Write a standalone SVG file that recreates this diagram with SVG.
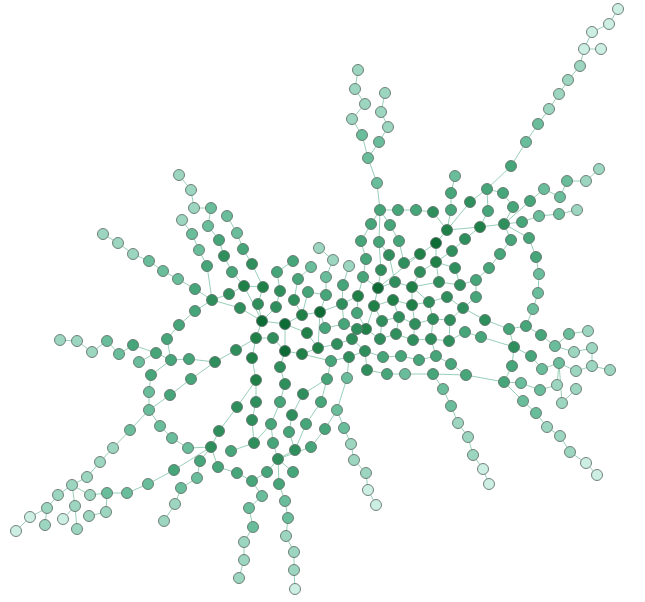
<svg xmlns="http://www.w3.org/2000/svg" width="645" height="602" viewBox="0 0 645 602">
<style>
line{stroke:#98cfb8;stroke-width:1}
circle{stroke:#5e6d67;stroke-width:1;stroke-opacity:.85}
.l0{fill:#0d6b35}.l1{fill:#1f8048}.l2{fill:#2f8f5c}.l3{fill:#46a579}.l4{fill:#6abd9a}.l5{fill:#9dd6c0}.l6{fill:#cdeee3}
</style>
<rect width="645" height="602" fill="#fff"/>
<g id="edges">
<line x1="618" y1="9" x2="609" y2="24"/><line x1="609" y1="24" x2="592" y2="32"/><line x1="592" y1="32" x2="584" y2="49"/><line x1="584" y1="49" x2="601" y2="49"/><line x1="584" y1="49" x2="580" y2="66"/><line x1="580" y1="66" x2="568" y2="80"/><line x1="568" y1="80" x2="559" y2="94"/><line x1="559" y1="94" x2="549" y2="109"/><line x1="549" y1="109" x2="538" y2="124"/><line x1="538" y1="124" x2="526" y2="142"/><line x1="526" y1="142" x2="511" y2="166"/><line x1="511" y1="166" x2="487" y2="189"/><line x1="487" y1="189" x2="503" y2="193"/><line x1="503" y1="193" x2="513" y2="207"/><line x1="513" y1="207" x2="504" y2="224"/><line x1="487" y1="189" x2="470" y2="202"/><line x1="470" y1="202" x2="447" y2="230"/><line x1="487" y1="189" x2="488" y2="211"/><line x1="488" y1="211" x2="480" y2="227"/><line x1="480" y1="227" x2="504" y2="224"/><line x1="447" y1="230" x2="480" y2="227"/><line x1="455" y1="176" x2="451" y2="193"/><line x1="451" y1="193" x2="451" y2="210"/><line x1="451" y1="210" x2="447" y2="230"/><line x1="380" y1="210" x2="398" y2="210"/><line x1="398" y1="210" x2="416" y2="210"/><line x1="416" y1="210" x2="433" y2="212"/><line x1="433" y1="212" x2="447" y2="230"/><line x1="377" y1="183" x2="380" y2="210"/><line x1="368" y1="158" x2="377" y2="183"/><line x1="362" y1="135" x2="368" y2="158"/><line x1="379" y1="142" x2="368" y2="158"/><line x1="358" y1="70" x2="355" y2="89"/><line x1="355" y1="89" x2="365" y2="104"/><line x1="365" y1="104" x2="352" y2="119"/><line x1="352" y1="119" x2="362" y2="135"/><line x1="385" y1="93" x2="381" y2="112"/><line x1="381" y1="112" x2="388" y2="127"/><line x1="388" y1="127" x2="379" y2="142"/>
<line x1="504" y1="224" x2="530" y2="201"/><line x1="530" y1="201" x2="544" y2="189"/><line x1="544" y1="189" x2="560" y2="197"/><line x1="560" y1="197" x2="567" y2="181"/><line x1="567" y1="181" x2="586" y2="181"/><line x1="586" y1="181" x2="599" y2="169"/><line x1="504" y1="224" x2="522" y2="222"/><line x1="522" y1="222" x2="539" y2="216"/><line x1="539" y1="216" x2="559" y2="214"/><line x1="559" y1="214" x2="577" y2="210"/><line x1="504" y1="224" x2="511" y2="240"/><line x1="511" y1="240" x2="500" y2="254"/><line x1="500" y1="254" x2="489" y2="268"/><line x1="489" y1="268" x2="476" y2="280"/><line x1="504" y1="224" x2="529" y2="238"/><line x1="529" y1="238" x2="536" y2="257"/><line x1="536" y1="257" x2="539" y2="274"/><line x1="539" y1="274" x2="538" y2="293"/><line x1="538" y1="293" x2="533" y2="309"/><line x1="533" y1="309" x2="526" y2="326"/><line x1="526" y1="326" x2="509" y2="329"/><line x1="509" y1="329" x2="485" y2="320"/><line x1="509" y1="329" x2="514" y2="347"/><line x1="526" y1="326" x2="541" y2="335"/><line x1="541" y1="335" x2="555" y2="346"/><line x1="555" y1="346" x2="569" y2="334"/><line x1="569" y1="334" x2="588" y2="331"/><line x1="555" y1="346" x2="574" y2="352"/><line x1="574" y1="352" x2="592" y2="348"/><line x1="592" y1="348" x2="592" y2="366"/><line x1="592" y1="366" x2="610" y2="370"/><line x1="592" y1="366" x2="576" y2="371"/><line x1="576" y1="371" x2="559" y2="363"/><line x1="559" y1="363" x2="542" y2="369"/><line x1="542" y1="369" x2="531" y2="356"/><line x1="531" y1="356" x2="514" y2="347"/><line x1="514" y1="347" x2="512" y2="366"/><line x1="512" y1="366" x2="504" y2="382"/><line x1="504" y1="382" x2="521" y2="383"/><line x1="521" y1="383" x2="540" y2="390"/><line x1="540" y1="390" x2="557" y2="385"/><line x1="557" y1="385" x2="559" y2="363"/><line x1="559" y1="363" x2="562" y2="403"/><line x1="562" y1="403" x2="576" y2="389"/><line x1="504" y1="382" x2="523" y2="401"/><line x1="523" y1="401" x2="536" y2="413"/><line x1="536" y1="413" x2="547" y2="427"/><line x1="547" y1="427" x2="560" y2="436"/><line x1="560" y1="436" x2="570" y2="452"/><line x1="570" y1="452" x2="586" y2="463"/><line x1="586" y1="463" x2="597" y2="475"/>
<line x1="504" y1="382" x2="466" y2="375"/><line x1="466" y1="375" x2="433" y2="374"/><line x1="433" y1="374" x2="443" y2="389"/><line x1="443" y1="389" x2="451" y2="406"/><line x1="451" y1="406" x2="458" y2="423"/><line x1="458" y1="423" x2="468" y2="437"/><line x1="468" y1="437" x2="473" y2="455"/><line x1="473" y1="455" x2="483" y2="469"/><line x1="483" y1="469" x2="489" y2="484"/><line x1="466" y1="375" x2="451" y2="364"/><line x1="451" y1="364" x2="436" y2="356"/><line x1="436" y1="356" x2="431" y2="339"/><line x1="433" y1="374" x2="405" y2="374"/><line x1="405" y1="374" x2="387" y2="374"/><line x1="387" y1="374" x2="367" y2="370"/><line x1="367" y1="370" x2="365" y2="351"/><line x1="365" y1="351" x2="383" y2="357"/><line x1="383" y1="357" x2="401" y2="356"/><line x1="401" y1="356" x2="419" y2="360"/><line x1="419" y1="360" x2="436" y2="356"/><line x1="366" y1="329" x2="380" y2="339"/><line x1="380" y1="339" x2="396" y2="334"/><line x1="396" y1="334" x2="413" y2="340"/><line x1="413" y1="340" x2="431" y2="339"/><line x1="431" y1="339" x2="449" y2="341"/><line x1="449" y1="341" x2="465" y2="332"/><line x1="465" y1="332" x2="481" y2="337"/><line x1="481" y1="337" x2="514" y2="347"/><line x1="382" y1="321" x2="399" y2="317"/><line x1="399" y1="317" x2="415" y2="324"/><line x1="415" y1="324" x2="433" y2="319"/><line x1="433" y1="319" x2="450" y2="320"/><line x1="450" y1="320" x2="463" y2="308"/><line x1="374" y1="306" x2="393" y2="300"/><line x1="393" y1="300" x2="412" y2="305"/><line x1="412" y1="305" x2="429" y2="302"/><line x1="429" y1="302" x2="447" y2="297"/><line x1="447" y1="297" x2="463" y2="308"/><line x1="363" y1="277" x2="378" y2="288"/><line x1="378" y1="288" x2="395" y2="282"/><line x1="395" y1="282" x2="412" y2="287"/><line x1="412" y1="287" x2="439" y2="282"/><line x1="439" y1="282" x2="460" y2="285"/><line x1="460" y1="285" x2="476" y2="280"/><line x1="476" y1="280" x2="476" y2="297"/><line x1="476" y1="297" x2="463" y2="308"/><line x1="463" y1="308" x2="485" y2="320"/>
<line x1="436" y1="243" x2="447" y2="230"/><line x1="436" y1="243" x2="420" y2="254"/><line x1="436" y1="243" x2="436" y2="262"/><line x1="465" y1="239" x2="480" y2="227"/><line x1="465" y1="239" x2="452" y2="251"/><line x1="452" y1="251" x2="436" y2="262"/><line x1="436" y1="262" x2="420" y2="272"/><line x1="436" y1="262" x2="455" y2="268"/><line x1="436" y1="262" x2="439" y2="282"/><line x1="455" y1="268" x2="460" y2="285"/><line x1="420" y1="254" x2="378" y2="288"/><line x1="420" y1="254" x2="404" y2="263"/><line x1="420" y1="272" x2="412" y2="287"/><line x1="412" y1="287" x2="412" y2="305"/><line x1="412" y1="287" x2="429" y2="302"/><line x1="412" y1="305" x2="415" y2="324"/><line x1="429" y1="302" x2="433" y2="319"/><line x1="415" y1="324" x2="413" y2="340"/><line x1="433" y1="319" x2="431" y2="339"/><line x1="450" y1="320" x2="449" y2="341"/><line x1="382" y1="321" x2="380" y2="339"/><line x1="374" y1="306" x2="382" y2="321"/><line x1="374" y1="306" x2="366" y2="329"/><line x1="393" y1="300" x2="399" y2="317"/><line x1="399" y1="317" x2="396" y2="334"/>
<line x1="380" y1="210" x2="371" y2="224"/><line x1="380" y1="210" x2="390" y2="225"/><line x1="371" y1="224" x2="361" y2="241"/><line x1="361" y1="241" x2="366" y2="259"/><line x1="366" y1="259" x2="363" y2="277"/><line x1="380" y1="210" x2="379" y2="242"/><line x1="379" y1="242" x2="381" y2="270"/><line x1="381" y1="270" x2="378" y2="288"/><line x1="379" y1="242" x2="389" y2="255"/><line x1="389" y1="255" x2="395" y2="282"/><line x1="390" y1="225" x2="399" y2="241"/><line x1="399" y1="241" x2="404" y2="263"/><line x1="363" y1="277" x2="358" y2="296"/><line x1="378" y1="288" x2="374" y2="306"/><line x1="358" y1="296" x2="342" y2="304"/><line x1="342" y1="304" x2="320" y2="312"/><line x1="342" y1="304" x2="343" y2="285"/><line x1="343" y1="285" x2="349" y2="266"/><line x1="333" y1="260" x2="319" y2="248"/><line x1="333" y1="260" x2="326" y2="277"/><line x1="326" y1="277" x2="326" y2="295"/><line x1="326" y1="295" x2="320" y2="312"/><line x1="358" y1="296" x2="357" y2="313"/><line x1="357" y1="313" x2="366" y2="329"/><line x1="344" y1="324" x2="357" y2="329"/><line x1="357" y1="329" x2="366" y2="329"/><line x1="325" y1="328" x2="344" y2="324"/><line x1="320" y1="312" x2="325" y2="328"/><line x1="342" y1="304" x2="344" y2="324"/>
<line x1="320" y1="312" x2="302" y2="315"/><line x1="302" y1="315" x2="285" y2="324"/><line x1="285" y1="324" x2="262" y2="321"/><line x1="262" y1="321" x2="244" y2="286"/><line x1="262" y1="321" x2="240" y2="308"/><line x1="262" y1="321" x2="258" y2="304"/><line x1="258" y1="304" x2="263" y2="287"/><line x1="262" y1="321" x2="276" y2="307"/><line x1="276" y1="307" x2="280" y2="291"/><line x1="302" y1="315" x2="294" y2="300"/><line x1="294" y1="300" x2="298" y2="279"/><line x1="298" y1="279" x2="311" y2="267"/><line x1="293" y1="261" x2="277" y2="272"/><line x1="277" y1="272" x2="280" y2="291"/><line x1="308" y1="292" x2="302" y2="315"/><line x1="308" y1="292" x2="326" y2="295"/>
<line x1="244" y1="286" x2="263" y2="287"/><line x1="263" y1="287" x2="252" y2="264"/><line x1="252" y1="264" x2="243" y2="249"/><line x1="243" y1="249" x2="237" y2="233"/><line x1="237" y1="233" x2="227" y2="216"/><line x1="244" y1="286" x2="229" y2="294"/><line x1="229" y1="294" x2="212" y2="300"/><line x1="244" y1="286" x2="232" y2="272"/><line x1="232" y1="272" x2="224" y2="256"/><line x1="224" y1="256" x2="219" y2="240"/><line x1="219" y1="240" x2="208" y2="226"/><line x1="208" y1="226" x2="211" y2="208"/><line x1="211" y1="208" x2="194" y2="208"/><line x1="194" y1="208" x2="191" y2="190"/><line x1="191" y1="190" x2="179" y2="175"/><line x1="182" y1="220" x2="192" y2="234"/><line x1="192" y1="234" x2="199" y2="250"/><line x1="199" y1="250" x2="207" y2="266"/><line x1="207" y1="266" x2="212" y2="300"/><line x1="212" y1="300" x2="195" y2="289"/><line x1="195" y1="289" x2="178" y2="279"/><line x1="178" y1="279" x2="163" y2="271"/><line x1="163" y1="271" x2="149" y2="261"/><line x1="149" y1="261" x2="133" y2="254"/><line x1="133" y1="254" x2="118" y2="243"/><line x1="118" y1="243" x2="103" y2="234"/><line x1="212" y1="300" x2="240" y2="308"/><line x1="212" y1="300" x2="195" y2="311"/><line x1="195" y1="311" x2="179" y2="325"/><line x1="179" y1="325" x2="167" y2="339"/><line x1="167" y1="339" x2="171" y2="360"/>
<line x1="262" y1="321" x2="256" y2="338"/><line x1="256" y1="338" x2="236" y2="350"/><line x1="256" y1="338" x2="252" y2="358"/><line x1="256" y1="338" x2="273" y2="338"/><line x1="285" y1="324" x2="285" y2="351"/><line x1="273" y1="338" x2="285" y2="351"/><line x1="285" y1="351" x2="302" y2="354"/><line x1="302" y1="354" x2="318" y2="348"/><line x1="318" y1="348" x2="337" y2="344"/><line x1="337" y1="344" x2="352" y2="339"/><line x1="352" y1="339" x2="365" y2="351"/><line x1="320" y1="312" x2="318" y2="348"/><line x1="307" y1="333" x2="318" y2="348"/><line x1="307" y1="333" x2="285" y2="324"/><line x1="285" y1="351" x2="280" y2="367"/><line x1="280" y1="367" x2="285" y2="384"/><line x1="285" y1="384" x2="280" y2="402"/><line x1="280" y1="402" x2="271" y2="424"/><line x1="271" y1="424" x2="273" y2="443"/><line x1="273" y1="443" x2="278" y2="459"/><line x1="252" y1="358" x2="256" y2="380"/><line x1="256" y1="380" x2="256" y2="402"/><line x1="256" y1="380" x2="237" y2="407"/><line x1="256" y1="402" x2="252" y2="420"/><line x1="252" y1="420" x2="254" y2="443"/><line x1="254" y1="443" x2="231" y2="451"/><line x1="254" y1="443" x2="271" y2="424"/><line x1="237" y1="407" x2="219" y2="431"/><line x1="219" y1="431" x2="211" y2="447"/><line x1="211" y1="447" x2="188" y2="448"/><line x1="211" y1="447" x2="200" y2="461"/><line x1="211" y1="447" x2="218" y2="467"/><line x1="211" y1="447" x2="174" y2="470"/><line x1="218" y1="467" x2="237" y2="473"/><line x1="237" y1="473" x2="252" y2="481"/><line x1="252" y1="481" x2="267" y2="472"/><line x1="267" y1="472" x2="278" y2="459"/><line x1="278" y1="459" x2="293" y2="472"/><line x1="278" y1="459" x2="279" y2="484"/><line x1="278" y1="459" x2="295" y2="450"/><line x1="295" y1="450" x2="306" y2="424"/><line x1="306" y1="424" x2="321" y2="402"/><line x1="321" y1="402" x2="327" y2="379"/><line x1="327" y1="379" x2="303" y2="394"/><line x1="303" y1="394" x2="292" y2="415"/><line x1="292" y1="415" x2="289" y2="432"/><line x1="289" y1="432" x2="295" y2="450"/><line x1="327" y1="379" x2="331" y2="361"/><line x1="331" y1="361" x2="302" y2="354"/><line x1="331" y1="361" x2="349" y2="357"/><line x1="349" y1="357" x2="347" y2="378"/><line x1="347" y1="378" x2="337" y2="410"/><line x1="337" y1="410" x2="325" y2="429"/><line x1="325" y1="429" x2="311" y2="447"/><line x1="311" y1="447" x2="278" y2="459"/><line x1="349" y1="357" x2="365" y2="351"/>
<line x1="252" y1="481" x2="262" y2="496"/><line x1="262" y1="496" x2="249" y2="508"/><line x1="249" y1="508" x2="253" y2="527"/><line x1="253" y1="527" x2="244" y2="542"/><line x1="244" y1="542" x2="244" y2="560"/><line x1="244" y1="560" x2="239" y2="578"/><line x1="279" y1="484" x2="285" y2="501"/><line x1="285" y1="501" x2="288" y2="518"/><line x1="288" y1="518" x2="286" y2="536"/><line x1="286" y1="536" x2="294" y2="552"/><line x1="294" y1="552" x2="294" y2="570"/><line x1="294" y1="570" x2="295" y2="589"/><line x1="337" y1="410" x2="344" y2="428"/><line x1="344" y1="428" x2="351" y2="444"/><line x1="351" y1="444" x2="354" y2="460"/><line x1="354" y1="460" x2="366" y2="473"/><line x1="366" y1="473" x2="368" y2="490"/><line x1="368" y1="490" x2="376" y2="505"/>
<line x1="236" y1="350" x2="215" y2="362"/><line x1="215" y1="362" x2="189" y2="359"/><line x1="215" y1="362" x2="191" y2="379"/><line x1="189" y1="359" x2="171" y2="360"/><line x1="171" y1="360" x2="156" y2="353"/><line x1="156" y1="353" x2="133" y2="345"/><line x1="156" y1="353" x2="139" y2="362"/><line x1="171" y1="360" x2="151" y2="375"/><line x1="151" y1="375" x2="149" y2="392"/><line x1="149" y1="392" x2="149" y2="410"/><line x1="191" y1="379" x2="170" y2="395"/><line x1="170" y1="395" x2="149" y2="410"/><line x1="133" y1="345" x2="119" y2="354"/><line x1="119" y1="354" x2="107" y2="341"/><line x1="107" y1="341" x2="92" y2="352"/><line x1="92" y1="352" x2="77" y2="341"/><line x1="77" y1="341" x2="60" y2="340"/><line x1="149" y1="410" x2="160" y2="426"/><line x1="160" y1="426" x2="172" y2="438"/><line x1="172" y1="438" x2="188" y2="448"/><line x1="149" y1="410" x2="130" y2="430"/><line x1="130" y1="430" x2="113" y2="448"/><line x1="113" y1="448" x2="100" y2="462"/><line x1="100" y1="462" x2="87" y2="477"/><line x1="87" y1="477" x2="72" y2="485"/><line x1="72" y1="485" x2="58" y2="495"/><line x1="58" y1="495" x2="47" y2="508"/><line x1="47" y1="508" x2="30" y2="517"/><line x1="30" y1="517" x2="16" y2="531"/><line x1="47" y1="508" x2="45" y2="525"/><line x1="72" y1="485" x2="90" y2="495"/><line x1="90" y1="495" x2="107" y2="493"/><line x1="107" y1="493" x2="127" y2="493"/><line x1="127" y1="493" x2="148" y2="484"/><line x1="148" y1="484" x2="174" y2="470"/><line x1="200" y1="461" x2="197" y2="478"/><line x1="197" y1="478" x2="181" y2="488"/><line x1="181" y1="488" x2="175" y2="504"/><line x1="175" y1="504" x2="164" y2="521"/><line x1="107" y1="493" x2="106" y2="512"/><line x1="106" y1="512" x2="89" y2="516"/><line x1="72" y1="485" x2="75" y2="506"/><line x1="75" y1="506" x2="63" y2="519"/><line x1="75" y1="506" x2="77" y2="529"/>
</g>
<g id="n1"><circle class="l6" cx="618" cy="9" r="5.5"/></g>
<g id="n2"><circle class="l6" cx="609" cy="24" r="5.5"/></g>
<g id="n3"><circle class="l6" cx="592" cy="32" r="5.5"/></g>
<g id="n4"><circle class="l6" cx="584" cy="49" r="5.5"/></g>
<g id="n5"><circle class="l6" cx="601" cy="49" r="5.5"/></g>
<g id="n6"><circle class="l5" cx="580" cy="66" r="5.5"/></g>
<g id="n7"><circle class="l5" cx="568" cy="80" r="5.5"/></g>
<g id="n8"><circle class="l5" cx="559" cy="94" r="5.5"/></g>
<g id="n9"><circle class="l5" cx="549" cy="109" r="5.5"/></g>
<g id="n10"><circle class="l4" cx="538" cy="124" r="5.5"/></g>
<g id="n11"><circle class="l4" cx="526" cy="142" r="5.5"/></g>
<g id="n12"><circle class="l3" cx="511" cy="166" r="5.5"/></g>
<g id="n13"><circle class="l3" cx="487" cy="189" r="5.5"/></g>
<g id="n14"><circle class="l3" cx="503" cy="193" r="5.5"/></g>
<g id="n15"><circle class="l3" cx="513" cy="207" r="5.5"/></g>
<g id="n16"><circle class="l2" cx="504" cy="224" r="5.5"/></g>
<g id="n17"><circle class="l2" cx="470" cy="202" r="5.5"/></g>
<g id="n18"><circle class="l3" cx="488" cy="211" r="5.5"/></g>
<g id="n19"><circle class="l1" cx="480" cy="227" r="5.5"/></g>
<g id="n20"><circle class="l4" cx="455" cy="176" r="5.5"/></g>
<g id="n21"><circle class="l3" cx="451" cy="193" r="5.5"/></g>
<g id="n22"><circle class="l3" cx="451" cy="210" r="5.5"/></g>
<g id="n23"><circle class="l1" cx="447" cy="230" r="5.5"/></g>
<g id="n24"><circle class="l2" cx="433" cy="212" r="5.5"/></g>
<g id="n25"><circle class="l3" cx="416" cy="210" r="5.5"/></g>
<g id="n26"><circle class="l3" cx="398" cy="210" r="5.5"/></g>
<g id="n27"><circle class="l3" cx="380" cy="210" r="5.5"/></g>
<g id="n28"><circle class="l4" cx="377" cy="183" r="5.5"/></g>
<g id="n29"><circle class="l4" cx="368" cy="158" r="5.5"/></g>
<g id="n30"><circle class="l5" cx="358" cy="70" r="5.5"/></g>
<g id="n31"><circle class="l5" cx="355" cy="89" r="5.5"/></g>
<g id="n32"><circle class="l5" cx="365" cy="104" r="5.5"/></g>
<g id="n33"><circle class="l5" cx="352" cy="119" r="5.5"/></g>
<g id="n34"><circle class="l4" cx="362" cy="135" r="5.5"/></g>
<g id="n35"><circle class="l5" cx="385" cy="93" r="5.5"/></g>
<g id="n36"><circle class="l5" cx="381" cy="112" r="5.5"/></g>
<g id="n37"><circle class="l5" cx="388" cy="127" r="5.5"/></g>
<g id="n38"><circle class="l4" cx="379" cy="142" r="5.5"/></g>
<g id="n39"><circle class="l3" cx="530" cy="201" r="5.5"/></g>
<g id="n40"><circle class="l4" cx="544" cy="189" r="5.5"/></g>
<g id="n41"><circle class="l4" cx="560" cy="197" r="5.5"/></g>
<g id="n42"><circle class="l4" cx="567" cy="181" r="5.5"/></g>
<g id="n43"><circle class="l5" cx="586" cy="181" r="5.5"/></g>
<g id="n44"><circle class="l5" cx="599" cy="169" r="5.5"/></g>
<g id="n45"><circle class="l3" cx="522" cy="222" r="5.5"/></g>
<g id="n46"><circle class="l4" cx="539" cy="216" r="5.5"/></g>
<g id="n47"><circle class="l4" cx="559" cy="214" r="5.5"/></g>
<g id="n48"><circle class="l5" cx="577" cy="210" r="5.5"/></g>
<g id="n49"><circle class="l3" cx="511" cy="240" r="5.5"/></g>
<g id="n50"><circle class="l3" cx="500" cy="254" r="5.5"/></g>
<g id="n51"><circle class="l3" cx="489" cy="268" r="5.5"/></g>
<g id="n52"><circle class="l3" cx="476" cy="280" r="5.5"/></g>
<g id="n53"><circle class="l3" cx="529" cy="238" r="5.5"/></g>
<g id="n54"><circle class="l3" cx="536" cy="257" r="5.5"/></g>
<g id="n55"><circle class="l4" cx="539" cy="274" r="5.5"/></g>
<g id="n56"><circle class="l4" cx="538" cy="293" r="5.5"/></g>
<g id="n57"><circle class="l4" cx="533" cy="309" r="5.5"/></g>
<g id="n58"><circle class="l3" cx="526" cy="326" r="5.5"/></g>
<g id="n59"><circle class="l3" cx="509" cy="329" r="5.5"/></g>
<g id="n60"><circle class="l2" cx="485" cy="320" r="5.5"/></g>
<g id="n61"><circle class="l2" cx="514" cy="347" r="5.5"/></g>
<g id="n62"><circle class="l3" cx="541" cy="335" r="5.5"/></g>
<g id="n63"><circle class="l4" cx="569" cy="334" r="5.5"/></g>
<g id="n64"><circle class="l5" cx="588" cy="331" r="5.5"/></g>
<g id="n65"><circle class="l4" cx="555" cy="346" r="5.5"/></g>
<g id="n66"><circle class="l5" cx="592" cy="348" r="5.5"/></g>
<g id="n67"><circle class="l5" cx="574" cy="352" r="5.5"/></g>
<g id="n68"><circle class="l3" cx="531" cy="356" r="5.5"/></g>
<g id="n69"><circle class="l4" cx="542" cy="369" r="5.5"/></g>
<g id="n70"><circle class="l4" cx="559" cy="363" r="5.5"/></g>
<g id="n71"><circle class="l5" cx="576" cy="371" r="5.5"/></g>
<g id="n72"><circle class="l5" cx="592" cy="366" r="5.5"/></g>
<g id="n73"><circle class="l5" cx="610" cy="370" r="5.5"/></g>
<g id="n74"><circle class="l3" cx="512" cy="366" r="5.5"/></g>
<g id="n75"><circle class="l3" cx="504" cy="382" r="5.5"/></g>
<g id="n76"><circle class="l4" cx="521" cy="383" r="5.5"/></g>
<g id="n77"><circle class="l4" cx="540" cy="390" r="5.5"/></g>
<g id="n78"><circle class="l5" cx="557" cy="385" r="5.5"/></g>
<g id="n79"><circle class="l5" cx="576" cy="389" r="5.5"/></g>
<g id="n80"><circle class="l5" cx="562" cy="403" r="5.5"/></g>
<g id="n81"><circle class="l4" cx="523" cy="401" r="5.5"/></g>
<g id="n82"><circle class="l4" cx="536" cy="413" r="5.5"/></g>
<g id="n83"><circle class="l5" cx="547" cy="427" r="5.5"/></g>
<g id="n84"><circle class="l5" cx="560" cy="436" r="5.5"/></g>
<g id="n85"><circle class="l5" cx="570" cy="452" r="5.5"/></g>
<g id="n86"><circle class="l6" cx="586" cy="463" r="5.5"/></g>
<g id="n87"><circle class="l6" cx="597" cy="475" r="5.5"/></g>
<g id="n88"><circle class="l3" cx="466" cy="375" r="5.5"/></g>
<g id="n89"><circle class="l4" cx="443" cy="389" r="5.5"/></g>
<g id="n90"><circle class="l4" cx="451" cy="406" r="5.5"/></g>
<g id="n91"><circle class="l5" cx="458" cy="423" r="5.5"/></g>
<g id="n92"><circle class="l5" cx="468" cy="437" r="5.5"/></g>
<g id="n93"><circle class="l5" cx="473" cy="455" r="5.5"/></g>
<g id="n94"><circle class="l6" cx="483" cy="469" r="5.5"/></g>
<g id="n95"><circle class="l6" cx="489" cy="484" r="5.5"/></g>
<g id="n96"><circle class="l0" cx="436" cy="243" r="5.5"/></g>
<g id="n97"><circle class="l1" cx="436" cy="262" r="5.5"/></g>
<g id="n98"><circle class="l1" cx="420" cy="254" r="5.5"/></g>
<g id="n99"><circle class="l2" cx="465" cy="239" r="5.5"/></g>
<g id="n100"><circle class="l2" cx="452" cy="251" r="5.5"/></g>
<g id="n101"><circle class="l2" cx="455" cy="268" r="5.5"/></g>
<g id="n102"><circle class="l2" cx="404" cy="263" r="5.5"/></g>
<g id="n103"><circle class="l2" cx="420" cy="272" r="5.5"/></g>
<g id="n104"><circle class="l3" cx="399" cy="241" r="5.5"/></g>
<g id="n105"><circle class="l2" cx="389" cy="255" r="5.5"/></g>
<g id="n106"><circle class="l3" cx="379" cy="242" r="5.5"/></g>
<g id="n107"><circle class="l3" cx="366" cy="259" r="5.5"/></g>
<g id="n108"><circle class="l2" cx="381" cy="270" r="5.5"/></g>
<g id="n109"><circle class="l3" cx="361" cy="241" r="5.5"/></g>
<g id="n110"><circle class="l3" cx="371" cy="224" r="5.5"/></g>
<g id="n111"><circle class="l3" cx="390" cy="225" r="5.5"/></g>
<g id="n112"><circle class="l3" cx="363" cy="277" r="5.5"/></g>
<g id="n113"><circle class="l2" cx="395" cy="282" r="5.5"/></g>
<g id="n114"><circle class="l0" cx="378" cy="288" r="5.5"/></g>
<g id="n115"><circle class="l1" cx="412" cy="287" r="5.5"/></g>
<g id="n116"><circle class="l2" cx="439" cy="282" r="5.5"/></g>
<g id="n117"><circle class="l2" cx="460" cy="285" r="5.5"/></g>
<g id="n118"><circle class="l1" cx="393" cy="300" r="5.5"/></g>
<g id="n119"><circle class="l1" cx="412" cy="305" r="5.5"/></g>
<g id="n120"><circle class="l2" cx="429" cy="302" r="5.5"/></g>
<g id="n121"><circle class="l2" cx="447" cy="297" r="5.5"/></g>
<g id="n122"><circle class="l3" cx="476" cy="297" r="5.5"/></g>
<g id="n123"><circle class="l1" cx="374" cy="306" r="5.5"/></g>
<g id="n124"><circle class="l2" cx="463" cy="308" r="5.5"/></g>
<g id="n125"><circle class="l2" cx="382" cy="321" r="5.5"/></g>
<g id="n126"><circle class="l2" cx="399" cy="317" r="5.5"/></g>
<g id="n127"><circle class="l2" cx="415" cy="324" r="5.5"/></g>
<g id="n128"><circle class="l2" cx="433" cy="319" r="5.5"/></g>
<g id="n129"><circle class="l2" cx="450" cy="320" r="5.5"/></g>
<g id="n130"><circle class="l1" cx="366" cy="329" r="5.5"/></g>
<g id="n131"><circle class="l2" cx="380" cy="339" r="5.5"/></g>
<g id="n132"><circle class="l2" cx="396" cy="334" r="5.5"/></g>
<g id="n133"><circle class="l2" cx="413" cy="340" r="5.5"/></g>
<g id="n134"><circle class="l2" cx="431" cy="339" r="5.5"/></g>
<g id="n135"><circle class="l2" cx="449" cy="341" r="5.5"/></g>
<g id="n136"><circle class="l3" cx="465" cy="332" r="5.5"/></g>
<g id="n137"><circle class="l3" cx="481" cy="337" r="5.5"/></g>
<g id="n138"><circle class="l2" cx="365" cy="351" r="5.5"/></g>
<g id="n139"><circle class="l3" cx="383" cy="357" r="5.5"/></g>
<g id="n140"><circle class="l3" cx="401" cy="356" r="5.5"/></g>
<g id="n141"><circle class="l3" cx="419" cy="360" r="5.5"/></g>
<g id="n142"><circle class="l3" cx="436" cy="356" r="5.5"/></g>
<g id="n143"><circle class="l3" cx="451" cy="364" r="5.5"/></g>
<g id="n144"><circle class="l2" cx="367" cy="370" r="5.5"/></g>
<g id="n145"><circle class="l3" cx="387" cy="374" r="5.5"/></g>
<g id="n146"><circle class="l4" cx="405" cy="374" r="5.5"/></g>
<g id="n147"><circle class="l3" cx="433" cy="374" r="5.5"/></g>
<g id="n149"><circle class="l2" cx="357" cy="329" r="5.5"/></g>
<g id="n150"><circle class="l3" cx="344" cy="324" r="5.5"/></g>
<g id="n151"><circle class="l3" cx="325" cy="328" r="5.5"/></g>
<g id="n152"><circle class="l1" cx="307" cy="333" r="5.5"/></g>
<g id="n153"><circle class="l1" cx="318" cy="348" r="5.5"/></g>
<g id="n154"><circle class="l2" cx="337" cy="344" r="5.5"/></g>
<g id="n155"><circle class="l2" cx="352" cy="339" r="5.5"/></g>
<g id="n156"><circle class="l3" cx="331" cy="361" r="5.5"/></g>
<g id="n157"><circle class="l2" cx="349" cy="357" r="5.5"/></g>
<g id="n159"><circle class="l0" cx="320" cy="312" r="5.5"/></g>
<g id="n160"><circle class="l2" cx="342" cy="304" r="5.5"/></g>
<g id="n161"><circle class="l1" cx="358" cy="296" r="5.5"/></g>
<g id="n162"><circle class="l3" cx="357" cy="313" r="5.5"/></g>
<g id="n163"><circle class="l1" cx="302" cy="315" r="5.5"/></g>
<g id="n164"><circle class="l0" cx="285" cy="324" r="5.5"/></g>
<g id="n165"><circle class="l0" cx="262" cy="321" r="5.5"/></g>
<g id="n166"><circle class="l2" cx="240" cy="308" r="5.5"/></g>
<g id="n167"><circle class="l2" cx="258" cy="304" r="5.5"/></g>
<g id="n168"><circle class="l2" cx="276" cy="307" r="5.5"/></g>
<g id="n169"><circle class="l2" cx="294" cy="300" r="5.5"/></g>
<g id="n170"><circle class="l3" cx="308" cy="292" r="5.5"/></g>
<g id="n171"><circle class="l3" cx="326" cy="295" r="5.5"/></g>
<g id="n172"><circle class="l3" cx="343" cy="285" r="5.5"/></g>
<g id="n174"><circle class="l4" cx="326" cy="277" r="5.5"/></g>
<g id="n175"><circle class="l3" cx="298" cy="279" r="5.5"/></g>
<g id="n176"><circle class="l4" cx="311" cy="267" r="5.5"/></g>
<g id="n177"><circle class="l3" cx="293" cy="261" r="5.5"/></g>
<g id="n178"><circle class="l3" cx="277" cy="272" r="5.5"/></g>
<g id="n179"><circle class="l5" cx="319" cy="248" r="5.5"/></g>
<g id="n180"><circle class="l5" cx="333" cy="260" r="5.5"/></g>
<g id="n181"><circle class="l5" cx="349" cy="266" r="5.5"/></g>
<g id="n183"><circle class="l1" cx="244" cy="286" r="5.5"/></g>
<g id="n184"><circle class="l1" cx="263" cy="287" r="5.5"/></g>
<g id="n185"><circle class="l2" cx="280" cy="291" r="5.5"/></g>
<g id="n186"><circle class="l2" cx="229" cy="294" r="5.5"/></g>
<g id="n187"><circle class="l2" cx="212" cy="300" r="5.5"/></g>
<g id="n188"><circle class="l2" cx="252" cy="264" r="5.5"/></g>
<g id="n189"><circle class="l3" cx="243" cy="249" r="5.5"/></g>
<g id="n190"><circle class="l3" cx="232" cy="272" r="5.5"/></g>
<g id="n191"><circle class="l2" cx="224" cy="256" r="5.5"/></g>
<g id="n192"><circle class="l4" cx="237" cy="233" r="5.5"/></g>
<g id="n193"><circle class="l4" cx="227" cy="216" r="5.5"/></g>
<g id="n194"><circle class="l4" cx="211" cy="208" r="5.5"/></g>
<g id="n195"><circle class="l4" cx="208" cy="226" r="5.5"/></g>
<g id="n196"><circle class="l3" cx="219" cy="240" r="5.5"/></g>
<g id="n197"><circle class="l3" cx="207" cy="266" r="5.5"/></g>
<g id="n198"><circle class="l4" cx="199" cy="250" r="5.5"/></g>
<g id="n199"><circle class="l4" cx="192" cy="234" r="5.5"/></g>
<g id="n200"><circle class="l5" cx="182" cy="220" r="5.5"/></g>
<g id="n201"><circle class="l5" cx="194" cy="208" r="5.5"/></g>
<g id="n202"><circle class="l5" cx="191" cy="190" r="5.5"/></g>
<g id="n203"><circle class="l5" cx="179" cy="175" r="5.5"/></g>
<g id="n204"><circle class="l1" cx="256" cy="338" r="5.5"/></g>
<g id="n205"><circle class="l2" cx="273" cy="338" r="5.5"/></g>
<g id="n206"><circle class="l0" cx="285" cy="351" r="5.5"/></g>
<g id="n207"><circle class="l1" cx="302" cy="354" r="5.5"/></g>
<g id="n209"><circle class="l2" cx="236" cy="350" r="5.5"/></g>
<g id="n210"><circle class="l1" cx="252" cy="358" r="5.5"/></g>
<g id="n211"><circle class="l2" cx="280" cy="367" r="5.5"/></g>
<g id="n212"><circle class="l2" cx="215" cy="362" r="5.5"/></g>
<g id="n218"><circle class="l5" cx="103" cy="234" r="5.5"/></g>
<g id="n219"><circle class="l5" cx="118" cy="243" r="5.5"/></g>
<g id="n220"><circle class="l5" cx="133" cy="254" r="5.5"/></g>
<g id="n221"><circle class="l4" cx="149" cy="261" r="5.5"/></g>
<g id="n222"><circle class="l4" cx="163" cy="271" r="5.5"/></g>
<g id="n223"><circle class="l4" cx="178" cy="279" r="5.5"/></g>
<g id="n224"><circle class="l3" cx="195" cy="289" r="5.5"/></g>
<g id="n225"><circle class="l3" cx="195" cy="311" r="5.5"/></g>
<g id="n226"><circle class="l3" cx="179" cy="325" r="5.5"/></g>
<g id="n227"><circle class="l3" cx="167" cy="339" r="5.5"/></g>
<g id="n228"><circle class="l5" cx="60" cy="340" r="5.5"/></g>
<g id="n229"><circle class="l5" cx="77" cy="341" r="5.5"/></g>
<g id="n230"><circle class="l5" cx="92" cy="352" r="5.5"/></g>
<g id="n231"><circle class="l4" cx="107" cy="341" r="5.5"/></g>
<g id="n232"><circle class="l4" cx="119" cy="354" r="5.5"/></g>
<g id="n233"><circle class="l3" cx="133" cy="345" r="5.5"/></g>
<g id="n234"><circle class="l3" cx="156" cy="353" r="5.5"/></g>
<g id="n235"><circle class="l4" cx="139" cy="362" r="5.5"/></g>
<g id="n236"><circle class="l3" cx="171" cy="360" r="5.5"/></g>
<g id="n237"><circle class="l3" cx="189" cy="359" r="5.5"/></g>
<g id="n238"><circle class="l3" cx="151" cy="375" r="5.5"/></g>
<g id="n239"><circle class="l3" cx="191" cy="379" r="5.5"/></g>
<g id="n240"><circle class="l4" cx="149" cy="392" r="5.5"/></g>
<g id="n241"><circle class="l3" cx="170" cy="395" r="5.5"/></g>
<g id="n242"><circle class="l4" cx="149" cy="410" r="5.5"/></g>
<g id="n243"><circle class="l4" cx="160" cy="426" r="5.5"/></g>
<g id="n244"><circle class="l4" cx="172" cy="438" r="5.5"/></g>
<g id="n245"><circle class="l4" cx="188" cy="448" r="5.5"/></g>
<g id="n246"><circle class="l2" cx="211" cy="447" r="5.5"/></g>
<g id="n247"><circle class="l2" cx="219" cy="431" r="5.5"/></g>
<g id="n248"><circle class="l3" cx="200" cy="461" r="5.5"/></g>
<g id="n249"><circle class="l3" cx="218" cy="467" r="5.5"/></g>
<g id="n250"><circle class="l4" cx="197" cy="478" r="5.5"/></g>
<g id="n251"><circle class="l3" cx="174" cy="470" r="5.5"/></g>
<g id="n252"><circle class="l4" cx="181" cy="488" r="5.5"/></g>
<g id="n253"><circle class="l5" cx="175" cy="504" r="5.5"/></g>
<g id="n254"><circle class="l5" cx="164" cy="521" r="5.5"/></g>
<g id="n255"><circle class="l4" cx="148" cy="484" r="5.5"/></g>
<g id="n256"><circle class="l4" cx="127" cy="493" r="5.5"/></g>
<g id="n257"><circle class="l4" cx="107" cy="493" r="5.5"/></g>
<g id="n258"><circle class="l5" cx="90" cy="495" r="5.5"/></g>
<g id="n259"><circle class="l5" cx="72" cy="485" r="5.5"/></g>
<g id="n260"><circle class="l5" cx="87" cy="477" r="5.5"/></g>
<g id="n261"><circle class="l5" cx="100" cy="462" r="5.5"/></g>
<g id="n262"><circle class="l5" cx="113" cy="448" r="5.5"/></g>
<g id="n263"><circle class="l4" cx="130" cy="430" r="5.5"/></g>
<g id="n264"><circle class="l5" cx="58" cy="495" r="5.5"/></g>
<g id="n265"><circle class="l5" cx="47" cy="508" r="5.5"/></g>
<g id="n266"><circle class="l5" cx="75" cy="506" r="5.5"/></g>
<g id="n267"><circle class="l6" cx="63" cy="519" r="5.5"/></g>
<g id="n268"><circle class="l5" cx="89" cy="516" r="5.5"/></g>
<g id="n269"><circle class="l5" cx="106" cy="512" r="5.5"/></g>
<g id="n270"><circle class="l5" cx="45" cy="525" r="5.5"/></g>
<g id="n271"><circle class="l5" cx="77" cy="529" r="5.5"/></g>
<g id="n272"><circle class="l6" cx="30" cy="517" r="5.5"/></g>
<g id="n273"><circle class="l6" cx="16" cy="531" r="5.5"/></g>
<g id="n274"><circle class="l1" cx="256" cy="380" r="5.5"/></g>
<g id="n275"><circle class="l2" cx="285" cy="384" r="5.5"/></g>
<g id="n276"><circle class="l2" cx="303" cy="394" r="5.5"/></g>
<g id="n277"><circle class="l3" cx="321" cy="402" r="5.5"/></g>
<g id="n278"><circle class="l4" cx="337" cy="410" r="5.5"/></g>
<g id="n279"><circle class="l4" cx="344" cy="428" r="5.5"/></g>
<g id="n280"><circle class="l5" cx="351" cy="444" r="5.5"/></g>
<g id="n281"><circle class="l5" cx="354" cy="460" r="5.5"/></g>
<g id="n282"><circle class="l5" cx="366" cy="473" r="5.5"/></g>
<g id="n283"><circle class="l6" cx="368" cy="490" r="5.5"/></g>
<g id="n284"><circle class="l6" cx="376" cy="505" r="5.5"/></g>
<g id="n285"><circle class="l2" cx="256" cy="402" r="5.5"/></g>
<g id="n286"><circle class="l3" cx="280" cy="402" r="5.5"/></g>
<g id="n287"><circle class="l2" cx="237" cy="407" r="5.5"/></g>
<g id="n288"><circle class="l2" cx="292" cy="415" r="5.5"/></g>
<g id="n289"><circle class="l2" cx="252" cy="420" r="5.5"/></g>
<g id="n290"><circle class="l3" cx="271" cy="424" r="5.5"/></g>
<g id="n291"><circle class="l3" cx="306" cy="424" r="5.5"/></g>
<g id="n292"><circle class="l3" cx="325" cy="429" r="5.5"/></g>
<g id="n293"><circle class="l3" cx="289" cy="432" r="5.5"/></g>
<g id="n295"><circle class="l2" cx="254" cy="443" r="5.5"/></g>
<g id="n296"><circle class="l3" cx="273" cy="443" r="5.5"/></g>
<g id="n298"><circle class="l3" cx="231" cy="451" r="5.5"/></g>
<g id="n299"><circle class="l2" cx="295" cy="450" r="5.5"/></g>
<g id="n300"><circle class="l3" cx="311" cy="447" r="5.5"/></g>
<g id="n301"><circle class="l2" cx="278" cy="459" r="5.5"/></g>
<g id="n304"><circle class="l3" cx="237" cy="473" r="5.5"/></g>
<g id="n305"><circle class="l3" cx="252" cy="481" r="5.5"/></g>
<g id="n306"><circle class="l3" cx="267" cy="472" r="5.5"/></g>
<g id="n307"><circle class="l3" cx="293" cy="472" r="5.5"/></g>
<g id="n308"><circle class="l3" cx="279" cy="484" r="5.5"/></g>
<g id="n309"><circle class="l4" cx="262" cy="496" r="5.5"/></g>
<g id="n310"><circle class="l4" cx="285" cy="501" r="5.5"/></g>
<g id="n311"><circle class="l4" cx="249" cy="508" r="5.5"/></g>
<g id="n312"><circle class="l4" cx="288" cy="518" r="5.5"/></g>
<g id="n313"><circle class="l4" cx="253" cy="527" r="5.5"/></g>
<g id="n314"><circle class="l5" cx="244" cy="542" r="5.5"/></g>
<g id="n315"><circle class="l5" cx="244" cy="560" r="5.5"/></g>
<g id="n316"><circle class="l5" cx="239" cy="578" r="5.5"/></g>
<g id="n317"><circle class="l5" cx="286" cy="536" r="5.5"/></g>
<g id="n318"><circle class="l5" cx="294" cy="552" r="5.5"/></g>
<g id="n319"><circle class="l5" cx="294" cy="570" r="5.5"/></g>
<g id="n320"><circle class="l6" cx="295" cy="589" r="5.5"/></g>
<g id="n321"><circle class="l4" cx="347" cy="378" r="5.5"/></g>
<g id="n322"><circle class="l3" cx="327" cy="379" r="5.5"/></g>
</svg>
